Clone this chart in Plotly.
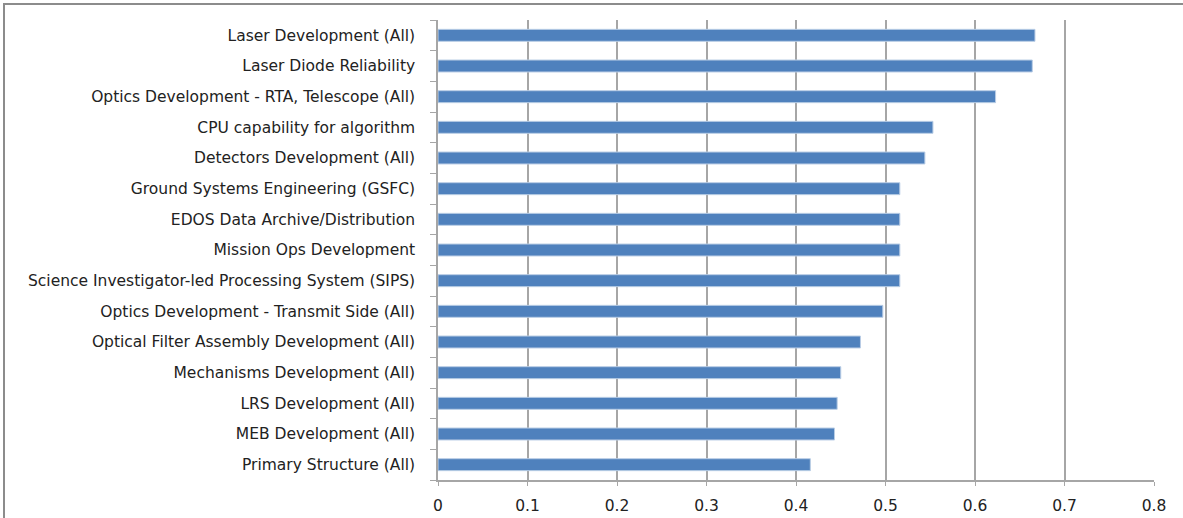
import plotly.graph_objects as go

categories = [
    "Laser Development (All)",
    "Laser Diode Reliability",
    "Optics Development - RTA, Telescope (All)",
    "CPU capability for algorithm",
    "Detectors Development (All)",
    "Ground Systems Engineering (GSFC)",
    "EDOS Data Archive/Distribution",
    "Mission Ops Development",
    "Science Investigator-led Processing System (SIPS)",
    "Optics Development - Transmit Side (All)",
    "Optical Filter Assembly Development (All)",
    "Mechanisms Development (All)",
    "LRS Development (All)",
    "MEB Development (All)",
    "Primary Structure (All)",
]
values = [0.667, 0.664, 0.623, 0.553, 0.544, 0.516, 0.516, 0.516, 0.516,
          0.497, 0.472, 0.450, 0.446, 0.443, 0.416]
x_ticks = [0, 0.1, 0.2, 0.3, 0.4, 0.5, 0.6, 0.7, 0.8]
x_tick_labels = ["0", "0.1", "0.2", "0.3", "0.4", "0.5", "0.6", "0.7", "0.8"]

W, H = 1183, 518
L, R, T, B = 438, 1154, 20, 480

fig = go.Figure(go.Bar(
    y=categories[::-1],
    x=values[::-1],
    orientation="h",
    marker=dict(color="#4F81BD", line=dict(color="#B9CDE5", width=1)),
))

def px_x(p):
    return (p - L) / (R - L)

def px_y(p):
    return (B - p) / (B - T)

fig.add_shape(type="rect", xref="paper", yref="paper",
              x0=px_x(4), x1=px_x(1200), y0=px_y(540), y1=px_y(4),
              line=dict(color="#8C8C8C", width=2), fillcolor="rgba(0,0,0,0)",
              layer="below")

fig.update_layout(
    width=W, height=H,
    margin=dict(l=L, r=W - R, t=T, b=H - B, pad=0, autoexpand=False),
    paper_bgcolor="white", plot_bgcolor="white",
    bargap=0.61,
    showlegend=False,
    font=dict(family="DejaVu Sans", size=15.5, color="#222222"),
    xaxis=dict(
        range=[0, 0.8], tickvals=x_ticks, ticktext=x_tick_labels,
        showgrid=True, gridcolor="#A6A6A6", gridwidth=1.5,
        showline=True, linecolor="#A6A6A6", linewidth=1.5,
        ticks="outside", ticklen=4, tickcolor="#A6A6A6",
        ticklabelstandoff=7, automargin=False,
        zeroline=False, fixedrange=True,
    ),
    yaxis=dict(
        type="category",
        showgrid=False,
        showline=True, linecolor="#A6A6A6", linewidth=1.5,
        ticks="outside", ticklen=6, tickcolor="#A6A6A6",
        tickson="boundaries",
        ticklabelstandoff=18, automargin=False,
        fixedrange=True,
    ),
)

fig.write_html(
    "out.html",
    config={"displayModeBar": False},
    post_script="document.body.style.margin='0';document.body.style.overflow='hidden';",
)
